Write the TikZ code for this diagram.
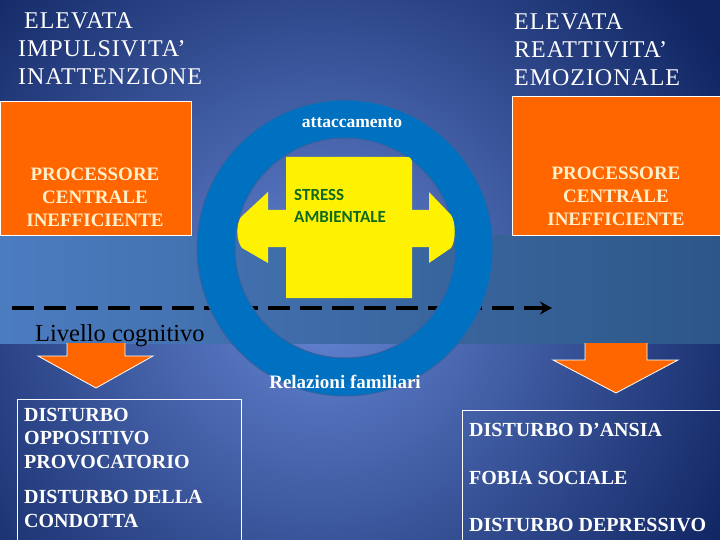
\documentclass[tikz,border=0pt]{standalone}
\usepackage{fontspec}
\setmainfont{Liberation Serif}
\newfontfamily\spacedserif[LetterSpace=4]{Liberation Serif}
\newfontfamily\calibri{Carlito}
\usepackage{xcolor}
\usetikzlibrary{arrows.meta,positioning,calc}

\definecolor{bgin}{HTML}{6586D4}
\definecolor{bgout}{HTML}{102562}
\definecolor{bandl}{HTML}{4C7CC0}
\definecolor{bandr}{HTML}{2D5788}
\definecolor{ringblue}{HTML}{0070C0}
\definecolor{ringedge}{HTML}{3A62A0}
\definecolor{procorange}{HTML}{FF6600}
\definecolor{cream}{HTML}{FFF0CC}
\definecolor{stressgreen}{HTML}{0E6A1E}

\begin{document}
\begin{tikzpicture}[x=1pt, y=-1pt,
    procbox/.style={rectangle, draw=white, line width=0.8pt, fill=procorange, anchor=north west, inner sep=0pt},
    proctext/.style={align=center, inner sep=0pt, text=cream, font=\fontsize{19}{23}\selectfont\bfseries},
    titletext/.style={align=left, anchor=north west, inner sep=0pt, text=white, font=\spacedserif\fontsize{24}{28}\selectfont},
    ringtext/.style={inner sep=0pt, text=white, font=\bfseries},
    outbox/.style={rectangle, draw=white, line width=0.8pt, anchor=north west, inner sep=0pt},
    outtext/.style={align=left, anchor=north west, inner sep=0pt, text=white, font=\fontsize{20}{23.5}\selectfont\bfseries},
    dashline/.style={line width=4.5pt, dash pattern=on 22pt off 10pt, -{Stealth[length=12pt,width=13pt]}},
    downarrow/.style={fill=procorange}]
  % background
  \useasboundingbox (0,0) rectangle (720,540);
  \begin{scope}
    \clip (0,0) rectangle (720,540);
    \fill[bgout] (0,0) rectangle (720,540);
    \shade[inner color=bgin, outer color=bgout] (320,300) circle (470);
    \shade[left color=bandl, right color=bandr] (0,235) rectangle (720,343);
  \end{scope}

  % processor boxes and titles
  \node[procbox, minimum width=191pt, minimum height=134pt] (procL) at (0,101) {};
  \node[procbox, minimum width=210pt, minimum height=139pt] (procR) at (512,96) {};
  \node[proctext] (procLtext) at (95,197) {PROCESSORE\\CENTRALE\\INEFFICIENTE};
  \node[proctext] (procRtext) at (616,196) {PROCESSORE\\CENTRALE\\INEFFICIENTE};
  \node[titletext] (titleL) at (18,12) {\hspace*{6pt}ELEVATA\\IMPULSIVITA’\\INATTENZIONE};
  \node[titletext] (titleR) at (514,13) {ELEVATA\\REATTIVITA’\\EMOZIONALE};

  % cognitive level line
  \coordinate (dashstart) at (12,308);
  \coordinate (dashend) at (552,308);
  \draw[dashline] (dashstart) -- (dashend);

  % family ring
  \coordinate (ringc) at (345,248);
  \filldraw[fill=ringblue, draw=ringedge, line width=1pt, even odd rule]
    (ringc) circle (148) (ringc) circle (110);

  % environmental stress
  \fill[yellow] (286,157) -- (406,157) .. controls (410,157) .. (412,161) -- (412,210) -- (429,210)
    -- (429,192) -- (451,215) .. controls (456,222) and (456,241) .. (451,248) -- (429,263)
    -- (429,247) -- (412,247) -- (412,298) -- (286,298) -- (286,247) -- (268,247)
    -- (268,263) -- (242,248) .. controls (236,241) and (236,224) .. (241,217) -- (268,192)
    -- (268,210) -- (286,210) -- cycle;
  \node[anchor=north west, inner sep=0pt, align=left, text=stressgreen,
    font=\calibri\bfseries\fontsize{17}{22}\selectfont] (stress) at (294,189) {STRESS\\AMBIENTALE};

  \node[ringtext, font=\bfseries\fontsize{17.5}{20}\selectfont] (attac) at (352,123) {attaccamento};
  \node[ringtext, font=\bfseries\fontsize{19}{22}\selectfont] (relaz) at (345,382) {Relazioni familiari};
  \node[anchor=base west, inner sep=0pt, font=\fontsize{24.5}{28}\selectfont] (livello) at (35,341) {Livello cognitivo};

  % outcome arrows
  \fill[downarrow] (67,343) -- (67,356) -- (38,356) -- (96,388) -- (153,356) -- (125,356) -- (125,343) -- cycle;
  \draw[white, line width=0.8pt] (67,343) -- (67,356) -- (38,356) -- (96,388) -- (153,356) -- (125,356) -- (125,343);
  \fill[downarrow] (585,343) -- (585,360) -- (553,360) -- (616,393) -- (678,360) -- (647,360) -- (647,343) -- cycle;
  \draw[white, line width=0.8pt] (585,343) -- (585,360) -- (553,360) -- (616,393) -- (678,360) -- (647,360) -- (647,343);

  % outcomes
  \node[outbox, minimum width=224pt, minimum height=150pt] (outL) at (17,399) {};
  \node[outbox, minimum width=262pt, minimum height=140pt] (outR) at (462,410) {};
  \node[outtext] (outLtext) at (24,408) {DISTURBO\\OPPOSITIVO\\PROVOCATORIO\\[12pt]DISTURBO DELLA\\CONDOTTA};
  \node[outtext] (outRtext) at (469,423) {DISTURBO D’ANSIA\\[24pt]FOBIA SOCIALE\\[24pt]DISTURBO DEPRESSIVO};
\end{tikzpicture}
\end{document}
